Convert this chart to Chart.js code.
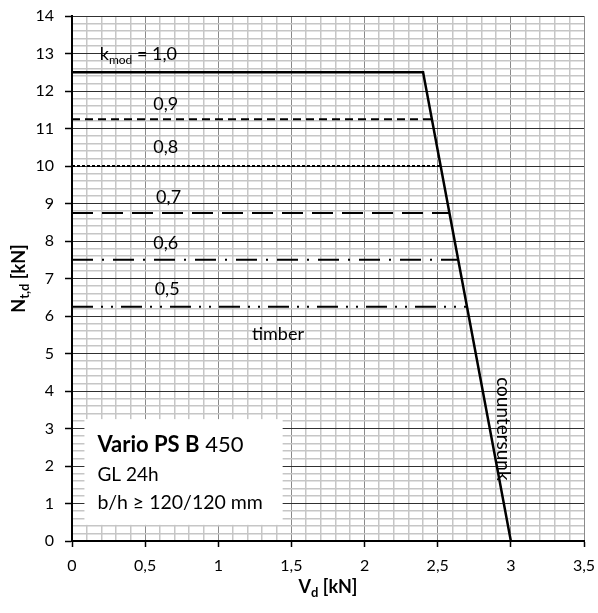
<!DOCTYPE html>
<html><head><meta charset="utf-8">
<script src="https://cdn.jsdelivr.net/npm/chart.js@4"></script>
<style>html,body{margin:0;padding:0;background:#fff}</style>
</head><body>
<canvas id="c" width="598" height="613"></canvas>
<script>
// ---- data ----
const kmodLabels = ['1,0', '0,9', '0,8', '0,7', '0,6', '0,5'];
const timberN = [12.5, 11.25, 10, 8.75, 7.5, 6.25];
const timberVStart = [0, 0, 0, 0, 0, 0];
const timberVEnd = [2.40, 2.46, 2.52, 2.58, 2.64, 2.70];
const countersunkV = [2.40, 3.00];
const countersunkN = [12.5, 0];
const xTickLabels = ['0', '0,5', '1', '1,5', '2', '2,5', '3', '3,5'];
const yTickLabels = ['0','1','2','3','4','5','6','7','8','9','10','11','12','13','14'];
const xTitleMain = 'V', xTitleSub = 'd', xTitleUnit = ' [kN]';
const yTitleMain = 'N', yTitleSub = 't,d', yTitleUnit = ' [kN]';
const timberLabel = 'timber';
const countersunkLabel = 'countersunk';
const kmodPrefix = 'k', kmodSub = 'mod', kmodEq = ' = ';
const productName = 'Vario PS B', productSize = ' 450', productMaterial = 'GL 24h', productDims = 'b/h ≥ 120/120 mm';

// ---- styles ----
const FONT = 'Lato, "Open Sans", sans-serif';
const dashes = [[], [8, 5], [3, 2], [21, 9], [21, 9, 2, 9], [21, 8, 2, 8, 2, 8]];
const widths = [2.5, 2, 2, 2, 2, 2];

const datasets = timberN.map((n, i) => {
  const pts = [{x: timberVStart[i], y: n}, {x: timberVEnd[i], y: n}];
  if (i === 0) pts.push({x: countersunkV[1], y: countersunkN[1]});
  return {
    label: 'kmod ' + kmodLabels[i],
    data: pts,
    borderColor: '#000',
    borderWidth: widths[i],
    borderDash: dashes[i],
    pointRadius: 0,
    showLine: true,
    fill: false,
    tension: 0
  };
});

const near = (v, step) => Math.abs(v / step - Math.round(v / step)) < 1e-6;

function rich(ctx, parts, x, y) {
  let cx = x;
  for (const p of parts) {
    ctx.font = p.font;
    ctx.fillText(p.t, cx, y + (p.dy || 0));
    cx += ctx.measureText(p.t).width;
  }
  return cx - x;
}
function richWidth(ctx, parts) {
  let w = 0;
  for (const p of parts) { ctx.font = p.font; w += ctx.measureText(p.t).width; }
  return w;
}

const annot = {
  id: 'annot',
  beforeDatasetsDraw(chart) {
    const {ctx, scales: {x, y}} = chart;
    ctx.save();
    const bx0 = x.getPixelForValue(0.085), bx1 = x.getPixelForValue(1.44);
    const by0 = y.getPixelForValue(3.25), by1 = y.getPixelForValue(0.43);
    ctx.fillStyle = '#fff';
    ctx.fillRect(bx0, by0, bx1 - bx0, by1 - by0);
    ctx.fillStyle = '#000';
    ctx.textBaseline = 'alphabetic';
    ctx.textAlign = 'left';
    const tx = bx0 + 13;
    rich(ctx, [{t: productName, font: 'bold 22px ' + FONT}, {t: productSize, font: '22px ' + FONT}], tx, by0 + 33);
    rich(ctx, [{t: productMaterial, font: '19px ' + FONT}], tx, by0 + 62);
    rich(ctx, [{t: productDims, font: '19.5px ' + FONT}], tx, by0 + 90);
    ctx.restore();
  },
  afterDatasetsDraw(chart) {
    const {ctx, scales: {x, y}, chartArea} = chart;
    ctx.save();
    ctx.fillStyle = '#000';
    ctx.textBaseline = 'alphabetic';
    ctx.textAlign = 'left';
    const f = '18px ' + FONT;
    const lx = [0.19, 0.555, 0.555, 0.575, 0.555, 0.565];
    const ly = [12.83, 11.49, 10.34, 9.02, 7.8, 6.56];
    kmodLabels.forEach((lab, i) => {
      const px = x.getPixelForValue(lx[i]), py = y.getPixelForValue(ly[i]);
      if (i === 0) {
        rich(ctx, [{t: kmodPrefix, font: f}, {t: kmodSub, font: '12px ' + FONT, dy: 4}, {t: kmodEq + lab, font: f}], px, py);
      } else {
        rich(ctx, [{t: lab, font: f}], px, py);
      }
    });
    rich(ctx, [{t: timberLabel, font: f}], x.getPixelForValue(1.23), y.getPixelForValue(5.36));
    ctx.save();
    ctx.translate(x.getPixelForValue(2.906), y.getPixelForValue(4.37));
    ctx.rotate(Math.PI / 2);
    ctx.font = '19px ' + FONT;
    ctx.fillText(countersunkLabel, 0, 0);
    ctx.restore();
    const xParts = [{t: xTitleMain, font: 'bold 18px ' + FONT}, {t: xTitleSub, font: 'bold 13px ' + FONT, dy: 4}, {t: xTitleUnit, font: 'bold 18px ' + FONT}];
    const xw = richWidth(ctx, xParts);
    rich(ctx, xParts, (chartArea.left + chartArea.right) / 2 - xw / 2, 593);
    const yParts = [{t: yTitleMain, font: 'bold 18px ' + FONT}, {t: yTitleSub, font: 'bold 13px ' + FONT, dy: 4}, {t: yTitleUnit, font: 'bold 18px ' + FONT}];
    const yw = richWidth(ctx, yParts);
    ctx.save();
    ctx.translate(25, (chartArea.top + chartArea.bottom) / 2);
    ctx.rotate(-Math.PI / 2);
    rich(ctx, yParts, -yw / 2, 0);
    ctx.restore();
    ctx.restore();
  }
};

new Chart(document.getElementById('c'), {
  type: 'line',
  data: {datasets},
  plugins: [annot],
  options: {
    responsive: false,
    animation: false,
    devicePixelRatio: 1,
    layout: {padding: {left: 0, top: 16, right: 14, bottom: 0}},
    plugins: {legend: {display: false}, tooltip: {enabled: false}},
    elements: {line: {borderCapStyle: 'butt'}},
    scales: {
      x: {
        type: 'linear', min: 0, max: 3.5,
        afterFit(s) { s.height = 72; s.paddingLeft = 0; s.paddingRight = 0; },
        ticks: {
          stepSize: 0.1, autoSkip: false, maxRotation: 0, padding: 9,
          color: '#000', font: {family: FONT, size: 16},
          callback: v => near(v, 0.5) ? xTickLabels[Math.round(v / 0.5)] : ''
        },
        grid: {
          color: c => (c.tick && near(c.tick.value, 0.5)) ? '#8a8a8a' : '#c6c6c6',
          lineWidth: c => (c.tick && near(c.tick.value, 0.5)) ? 1 : 1.5,
          tickColor: c => (c.tick && near(c.tick.value, 0.5)) ? '#000' : 'rgba(0,0,0,0)',
          tickLength: 6, tickWidth: 1.5
        },
        border: {color: '#000', width: 2}
      },
      y: {
        type: 'linear', min: 0, max: 14,
        afterFit(s) { s.width = 72; s.paddingTop = 0; s.paddingBottom = 0; },
        ticks: {
          stepSize: 0.2, autoSkip: false, padding: 11,
          color: '#000', font: {family: FONT, size: 16},
          callback: v => near(v, 1) ? yTickLabels[Math.round(v)] : ''
        },
        grid: {
          color: c => (c.tick && near(c.tick.value, 1)) ? '#303030' : '#c6c6c6',
          lineWidth: c => (c.tick && near(c.tick.value, 1)) ? 1 : 1.5,
          tickColor: c => (c.tick && near(c.tick.value, 1)) ? '#000' : 'rgba(0,0,0,0)',
          tickLength: 7, tickWidth: 1.5
        },
        border: {color: '#000', width: 2}
      }
    }
  }
});
</script>
</body></html>
